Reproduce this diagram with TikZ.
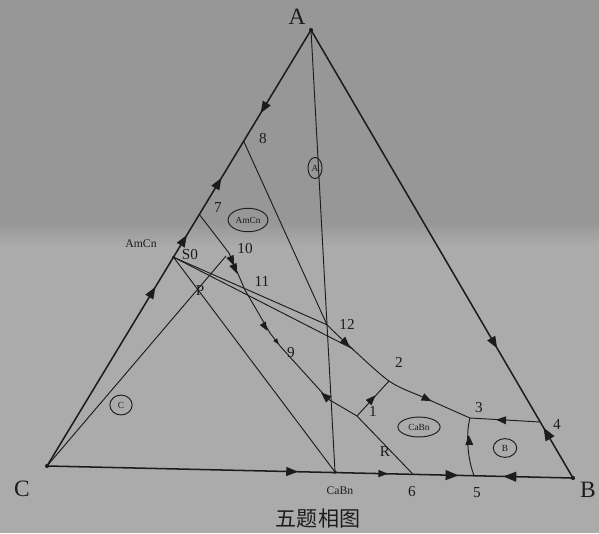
\documentclass[tikz,border=0pt]{standalone}
\usepackage{fontspec}
\setmainfont{Liberation Serif}
\newfontfamily\cjk{Noto Sans CJK SC}
\usetikzlibrary{arrows.meta,calc,shapes.geometric}
\definecolor{bgtop}{HTML}{979797}
\definecolor{bgbot}{HTML}{ABABAB}
\definecolor{ink}{HTML}{1C1C1C}
\newcommand{\myarr}[3][1]{\fill[ink, shift={(#2)}, rotate=#3, scale=#1] (5pt,0) -- (-5pt,4pt) -- (-5pt,-4pt) -- cycle;}
\tikzset{
  sideline/.style={draw=ink, line width=1.3pt, line join=round},
  innerline/.style={draw=ink, line width=0.8pt, line join=round},
  lab/.style={font=\fontsize{13}{13}\selectfont, text=ink, inner sep=0pt},
  biglab/.style={font=\fontsize{20}{20}\selectfont, text=ink, inner sep=0pt},
  smalllab/.style={font=\fontsize{10}{10}\selectfont, text=ink, inner sep=0pt},
  ring/.style={draw=ink, line width=0.8pt, ellipse, inner sep=0pt, font=\fontsize{8}{8}\selectfont, text=ink},
  dot/.style={fill=ink, circle, inner sep=0pt, minimum size=3.5pt}
}
\begin{document}
\begin{tikzpicture}[x=0.03cm,y=-0.03cm]
\useasboundingbox (0,0) rectangle (599,533);
\fill[bgtop] (0,0) rectangle (599,222);
\shade[top color=bgtop,bottom color=bgbot] (0,222) rectangle (599,246);
\fill[bgbot] (0,246) rectangle (599,533);

% key points
\coordinate (A) at (311,30);
\coordinate (C) at (47,466);
\coordinate (B) at (573,478);
\coordinate (CaBn) at (335,472);
\coordinate (S0) at ($(C)!0.479!(A)$);
\coordinate (P8) at ($(C)!0.745!(A)$);
\coordinate (P7) at ($(C)!0.577!(A)$);
\coordinate (P4) at ($(A)!0.875!(B)$);
\coordinate (P6) at ($(C)!0.696!(B)$);
\coordinate (P5) at ($(C)!0.812!(B)$);
\coordinate (P12) at ($(A)!0.667!(CaBn)$);
\coordinate (P10) at (229,253);
\coordinate (P11) at (245,290);
\coordinate (Pa) at (270,333);
\coordinate (P9) at (280,346);
\coordinate (K) at (328,399);
\coordinate (Q) at (357,416);
\coordinate (P3) at (470,418);
\coordinate (P2) at (389,381);
\coordinate (M) at (353,349);
\coordinate (Ce) at (226,256);

% inner lines
\draw[innerline] (A) -- (CaBn);
\draw[innerline] (S0) -- (CaBn);
\draw[innerline] (S0) -- (P12);
\draw[innerline] (S0) -- (M);
\draw[innerline] (P8) -- (P12);
\draw[innerline] (C) -- (Ce);
\draw[innerline] plot[smooth] coordinates {(P12) (345,342) (P2) (425,398) (P3)};
\draw[innerline] (P7) -- (P10) -- (P11) -- (Pa) -- (P9) -- (K) -- (Q) -- (P6);
\draw[innerline] (Q) -- (P2);
\draw[innerline] (P3) -- (P4);
\draw[innerline] (P5) .. controls (467,458) and (466,432) .. (P3);

% triangle sides
\draw[sideline] (C) -- (A) -- (B) -- cycle;

% vertices
\node[dot] (dA) at (A) {};
\node[dot] (dC) at (C) {};
\node[dot] (dB) at (B) {};
\node[dot,minimum size=3pt] (dCaBn) at (CaBn) {};
\node[dot,minimum size=2.5pt] (dS0) at (S0) {};

% arrows on sides
\myarr{$(C)!0.399!(A)$}{58.8}
\myarr{$(C)!0.518!(A)$}{58.8}
\myarr{$(C)!0.649!(A)$}{58.8}
\myarr{$(C)!0.821!(A)$}{238.8}
\myarr{$(A)!0.699!(B)$}{-59.7}
\myarr[1.1]{$(A)!0.9!(B)$}{120.3}
\myarr{$(C)!0.466!(B)$}{-1.3}
\myarr[0.8]{$(C)!0.639!(B)$}{-1.3}
\myarr[1.1]{$(C)!0.770!(B)$}{-1.3}
\myarr[1.1]{$(C)!0.880!(B)$}{178.7}

% arrows on inner curves
\myarr[0.85]{232,261}{-66.6}
\myarr[0.85]{235,269}{-66.6}
\myarr[0.75]{265,327}{-58.6}
\myarr[0.5]{277,342}{-52}
\myarr[0.9]{325,396}{137.7}
\myarr[0.85]{346,343}{-44}
\myarr[0.85]{427,399}{-25}
\myarr[0.85]{372,399}{46.7}
\myarr[0.85]{501,420}{176.7}
\myarr[0.85]{469,440}{93}

% labels
\node[biglab] (lA) at (297,17) {A};
\node[biglab] (lC) at (22,489) {C};
\node[biglab] (lB) at (588,490) {B};
\node[smalllab] (lAmCn) at (141,244) {AmCn};
\node[lab] (lS0) at (190,255) {S0};
\node[lab] (l7) at (218,208) {7};
\node[lab] (l8) at (263,139) {8};
\node[lab] (l9) at (291,353) {9};
\node[lab] (l10) at (245,249) {10};
\node[lab] (l11) at (262,281) {11};
\node[lab] (l12) at (347,324) {12};
\node[lab] (lP) at (200,291) {P};
\node[lab] (l1) at (373,411) {1};
\node[lab] (l2) at (399,362) {2};
\node[lab] (l3) at (479,408) {3};
\node[lab] (l4) at (557,424) {4};
\node[lab] (l5) at (477,493) {5};
\node[lab] (l6) at (412,492) {6};
\node[lab] (lR) at (385,452) {R};
\node[smalllab] (lCaBn) at (340,491) {CaBn};
\node[font=\cjk\fontsize{18}{18}\selectfont, text=ink, inner sep=0pt] (cap) at (318,518) {五题相图};

% circled field labels
\node[ring, minimum width=12pt, minimum height=18pt] (fA) at (315,168) {A};
\node[ring, minimum width=34pt, minimum height=20pt] (fAmCn) at (248,220) {AmCn};
\node[ring, minimum width=36pt, minimum height=17pt] (fCaBn) at (419,427) {CaBn};
\node[ring, minimum width=20pt, minimum height=16pt] (fB) at (505,448) {B};
\node[ring, minimum width=19pt, minimum height=17pt] (fC) at (121,405) {C};
\end{tikzpicture}
\end{document}
